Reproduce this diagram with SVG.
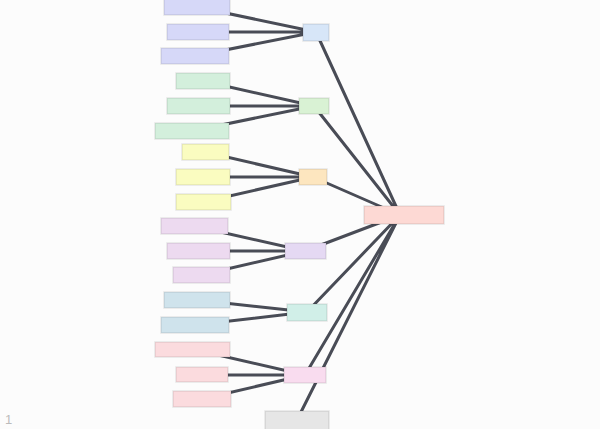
<svg xmlns="http://www.w3.org/2000/svg" width="600" height="429" viewBox="0 0 600 429">
<style>
.e{stroke:#494c56;stroke-width:3;fill:none;stroke-linecap:round}
.n{stroke:#000;stroke-opacity:0.09;stroke-width:1.5}
.bl{fill:#d6d8f8}.b1{fill:#d7e6f8}
.gl{fill:#d3efdc}.g1{fill:#d9f2d4}
.yl{fill:#fafcc0}.y1{fill:#fde6bf}
.pl{fill:#eddaf0}.p1{fill:#e5d9f3}
.tl{fill:#cfe3ec}.t1{fill:#d1efe8}
.rl{fill:#fbdbde}.r1{fill:#f9dcef}
.c{fill:#fdd9d4}.x{fill:#e6e6e6}
</style>
<rect width="600" height="429" fill="#fcfcfc"/>
<g id="edges">
<path class="e" d="M197,7L316,32M198,32L316,32M195,56L316,32"/>
<path class="e" d="M203,81L314,106M198,106L314,106M192,131L314,106"/>
<path class="e" d="M205,152L313,177M203,177L313,177M203,202L313,177"/>
<path class="e" d="M194,226L305,251M198,251L305,251M201,275L305,251"/>
<path class="e" d="M197,300L307,312M195,325L307,312"/>
<path class="e" d="M192,349L305,375M202,375L305,375M202,399L305,375"/>
<path class="e" d="M316,32L400,215M314,106L400,215M313,177L400,215M305,251L400,215M307,312L400,215M305,375L400,215M297,420L400,215"/>
</g>
<g id="root"><rect class="n c" x="364" y="206" width="80" height="18"/></g>
<g id="n1"><rect class="n b1" x="303" y="24" width="26" height="17"/></g>
<g id="n1a"><rect class="n bl" x="164" y="-1" width="66" height="16"/></g>
<g id="n1b"><rect class="n bl" x="167" y="24" width="62" height="16"/></g>
<g id="n1c"><rect class="n bl" x="161" y="48" width="68" height="16"/></g>
<g id="n2"><rect class="n g1" x="299" y="98" width="30" height="16"/></g>
<g id="n2a"><rect class="n gl" x="176" y="73" width="54" height="16"/></g>
<g id="n2b"><rect class="n gl" x="167" y="98" width="63" height="16"/></g>
<g id="n2c"><rect class="n gl" x="155" y="123" width="74" height="16"/></g>
<g id="n3"><rect class="n y1" x="299" y="169" width="28" height="16"/></g>
<g id="n3a"><rect class="n yl" x="182" y="144" width="47" height="16"/></g>
<g id="n3b"><rect class="n yl" x="176" y="169" width="54" height="16"/></g>
<g id="n3c"><rect class="n yl" x="176" y="194" width="55" height="16"/></g>
<g id="n4"><rect class="n p1" x="285" y="243" width="41" height="16"/></g>
<g id="n4a"><rect class="n pl" x="161" y="218" width="67" height="16"/></g>
<g id="n4b"><rect class="n pl" x="167" y="243" width="63" height="16"/></g>
<g id="n4c"><rect class="n pl" x="173" y="267" width="57" height="16"/></g>
<g id="n5"><rect class="n t1" x="287" y="304" width="40" height="17"/></g>
<g id="n5a"><rect class="n tl" x="164" y="292" width="66" height="16"/></g>
<g id="n5b"><rect class="n tl" x="161" y="317" width="68" height="16"/></g>
<g id="n6"><rect class="n r1" x="284" y="367" width="42" height="16"/></g>
<g id="n6a"><rect class="n rl" x="155" y="342" width="75" height="15"/></g>
<g id="n6b"><rect class="n rl" x="176" y="367" width="52" height="15"/></g>
<g id="n6c"><rect class="n rl" x="173" y="391" width="58" height="16"/></g>
<g id="n7"><rect class="n x" x="265" y="411" width="64" height="20"/></g>
<text x="5" y="424" font-family="Liberation Sans, sans-serif" font-size="13" fill="#bbbbbb">1</text>
</svg>
